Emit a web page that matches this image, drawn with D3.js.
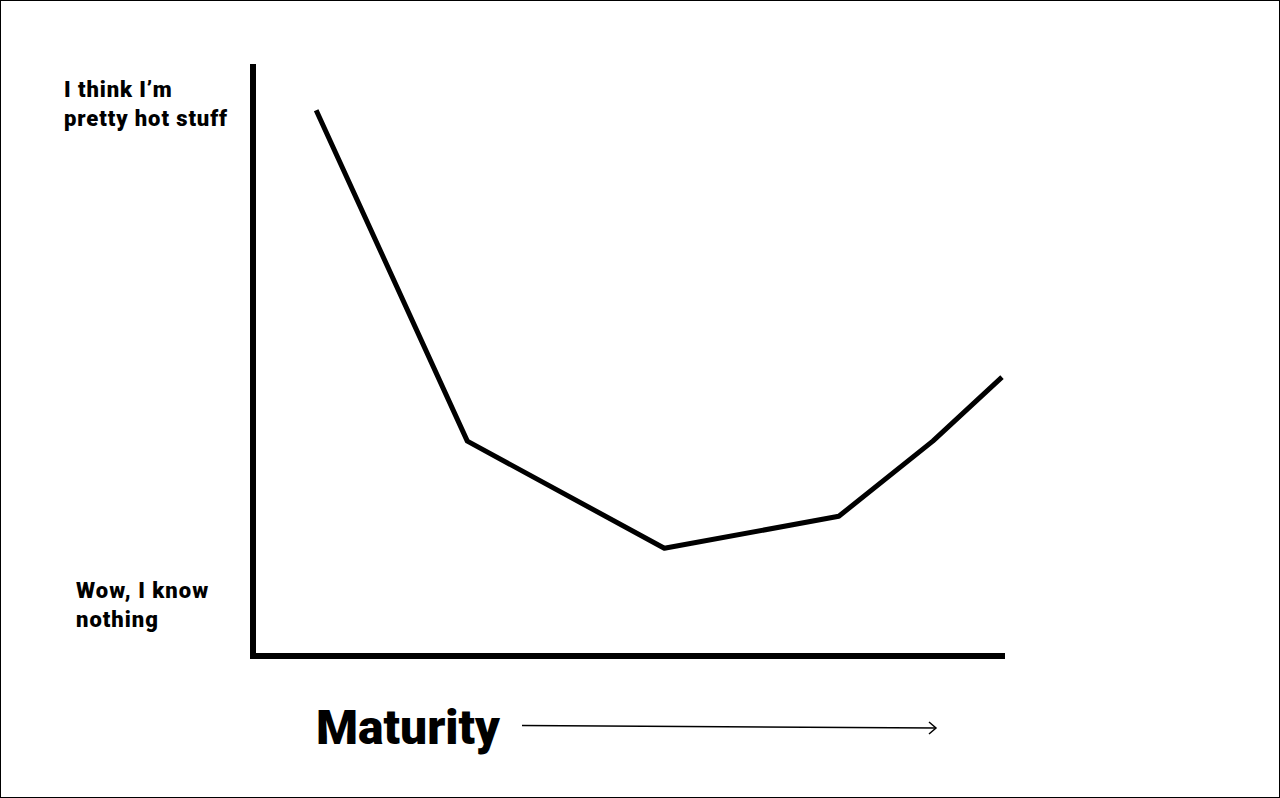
<!DOCTYPE html>
<html><head><meta charset="utf-8">
<script src="https://cdn.jsdelivr.net/npm/d3@7"></script>
<style>
html,body{margin:0;padding:0;background:#fff;}
svg{display:block;}
text{font-family:Roboto,"Noto Sans",sans-serif;font-weight:900;fill:#000;}
</style></head>
<body>
<script>
// Data (x = maturity, y = self-assessed knowledge, 0-100)
const maturity = [8.4, 28.5, 54.7, 77.9, 90.4, 99.6];
const confidence = [92.2, 36.3, 18.2, 23.6, 36.3, 47.1];
const topLabel = ["I think I’m", "pretty hot stuff"];
const bottomLabel = ["Wow, I know", "nothing"];
const xTitle = "Maturity";

const W = 1280, H = 798;
const svg = d3.select("body").append("svg").attr("width", W).attr("height", H);

svg.append("rect").attr("x", 0.5).attr("y", 0.5).attr("width", W - 1).attr("height", H - 1)
  .attr("fill", "#fff").attr("stroke", "#000").attr("stroke-width", 1);

const x = d3.scaleLinear().domain([0, 100]).range([253, 1005]);
const y = d3.scaleLinear().domain([0, 100]).range([656, 64]);

// Axes
svg.append("line").attr("x1", x(0)).attr("x2", x(0)).attr("y1", y(100)).attr("y2", y(0) + 3)
  .attr("stroke", "#000").attr("stroke-width", 6);
svg.append("line").attr("x1", x(0) - 3).attr("x2", x(100)).attr("y1", y(0)).attr("y2", y(0))
  .attr("stroke", "#000").attr("stroke-width", 6);

// Curve
const pts = maturity.map((m, i) => [m, confidence[i]]);
svg.append("path").datum(pts)
  .attr("d", d3.line().x(d => x(d[0])).y(d => y(d[1])))
  .attr("fill", "none").attr("stroke", "#000").attr("stroke-width", 5)
  .attr("stroke-linejoin", "round");

// Labels
const tl = svg.append("text").attr("x", 64).attr("y", 97).attr("font-size", 22).attr("letter-spacing", 0.9);
topLabel.forEach((t, i) => tl.append("tspan").attr("x", 64).attr("dy", i ? 29 : 0).text(t));
const bl = svg.append("text").attr("x", 76).attr("y", 598).attr("font-size", 22).attr("letter-spacing", 1);
bottomLabel.forEach((t, i) => bl.append("tspan").attr("x", 76).attr("dy", i ? 29 : 0).text(t));

svg.append("text").attr("x", 316).attr("y", 744).attr("font-size", 48).text(xTitle);

// Arrow
svg.append("line").attr("x1", 522).attr("y1", 725.5).attr("x2", 936).attr("y2", 728)
  .attr("stroke", "#000").attr("stroke-width", 1.5);
svg.append("path").attr("d", "M929,722 L936,728 L929,734")
  .attr("fill", "none").attr("stroke", "#000").attr("stroke-width", 1.5);
</script>
</body></html>
